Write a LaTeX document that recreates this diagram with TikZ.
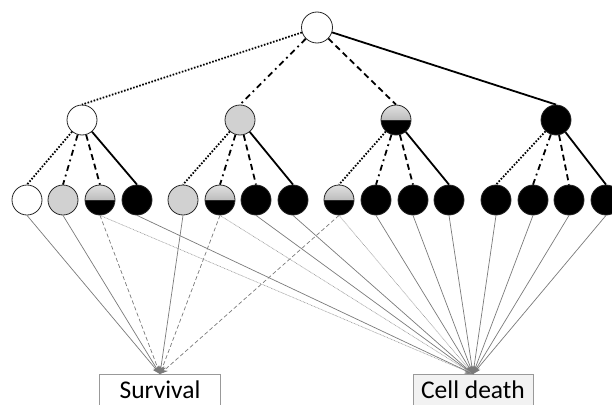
\documentclass[tikz,border=0pt]{standalone}
\usepackage{fontspec}
\setsansfont{Carlito}
\usetikzlibrary{arrows.meta}
\begin{document}
\begin{tikzpicture}[x=1pt,y=-1pt,
 nd/.style={circle, draw=black!85, line width=0.8pt, minimum size=30pt, inner sep=0pt},
 wnode/.style={nd, fill=white},
 gnode/.style={nd, fill=black!18},
 bnode/.style={nd, fill=black},
 hnode/.style={nd, path picture={
   \fill[top color=black!12, bottom color=black!40] (path picture bounding box.north west) rectangle (path picture bounding box.east);
   \fill[black] (path picture bounding box.west) rectangle (path picture bounding box.south east);
   \draw[black!85, line width=0.6pt] (path picture bounding box.west) -- (path picture bounding box.east);}},
 tdot/.style={line width=1.8pt, dash pattern=on 1.6pt off 1.6pt},
 tdd/.style={line width=1.8pt, dash pattern=on 6pt off 4pt on 1.8pt off 4pt},
 tdash/.style={line width=1.8pt, dash pattern=on 6pt off 4pt},
 tsol/.style={line width=1.8pt},
 tip/.style={-{Stealth[length=8pt,width=6pt]}},
 osol/.style={draw=black!52, line width=0.7pt, tip},
 odash/.style={draw=black!52, line width=0.7pt, dash pattern=on 4pt off 2.5pt, tip},
 odot/.style={draw=black!40, line width=0.6pt, dash pattern=on 0.8pt off 0.7pt, tip},
 obox/.style={draw=black!40, line width=0.8pt, font=\sffamily\fontsize{25.5}{30}\selectfont, minimum width=121pt, minimum height=30.5pt, anchor=north, inner sep=0pt}
]
\useasboundingbox (0,0) rectangle (612,404);
\clip (0,0) rectangle (612,404);

% root
\node[wnode, minimum size=31pt] (root) at (317,27.5) {};
% level 2
\node[wnode] (a) at (82,120) {};
\node[gnode] (b) at (240,120) {};
\node[hnode] (c) at (396,120) {};
\node[bnode] (d) at (556,120) {};
% leaves
\node[wnode] (l1) at (27,200) {};
\node[gnode] (l2) at (63,200) {};
\node[hnode] (l3) at (100,200) {};
\node[bnode] (l4) at (137,200) {};
\node[gnode] (l5) at (183,200) {};
\node[hnode] (l6) at (220,200) {};
\node[bnode] (l7) at (256,200) {};
\node[bnode] (l8) at (293,200) {};
\node[hnode] (l9) at (339,200) {};
\node[bnode] (l10) at (376,200) {};
\node[bnode] (l11) at (413,200) {};
\node[bnode] (l12) at (449,200) {};
\node[bnode] (l13) at (496,200) {};
\node[bnode] (l14) at (533,200) {};
\node[bnode] (l15) at (569,200) {};
\node[bnode] (l16) at (606,200) {};
% outcome boxes
\node[obox, fill=white] (surv) at (160,374) {Survival};
\node[obox, fill=black!5, minimum width=120pt] (death) at (473,374) {Cell death};

% tree edges
\draw[tdot] (root) -- (a.north);
\draw[tdd] (root) -- (b.north);
\draw[tdash] (root) -- (c.north);
\draw[tsol] (root) -- (d.north);
\draw[tdot] (a) -- (l1.north);
\draw[tdd] (a) -- (l2.north);
\draw[tdash] (a) -- (l3.north);
\draw[tsol] (a) -- (l4.north);
\draw[tdot] (b) -- (l5.north);
\draw[tdd] (b) -- (l6.north);
\draw[tdash] (b) -- (l7.north);
\draw[tsol] (b) -- (l8.north);
\draw[tdot] (c) -- (l9.north);
\draw[tdd] (c) -- (l10.north);
\draw[tdash] (c) -- (l11.north);
\draw[tsol] (c) -- (l12.north);
\draw[tdot] (d) -- (l13.north);
\draw[tdd] (d) -- (l14.north);
\draw[tdash] (d) -- (l15.north);
\draw[tsol] (d) -- (l16.north);

% outcome connectors
\draw[osol] (l1.south) -- (surv.north);
\draw[osol] (l2.south) -- (surv.north);
\draw[odash] (l3.south) -- (surv.north);
\draw[osol] (l5.south) -- (surv.north);
\draw[odash] (l6.south) -- (surv.north);
\draw[odash] (l9.south) -- (surv.north);
\draw[odot] (l3.south) -- (death.north);
\draw[osol] (l4.south) -- (death.north);
\draw[odot] (l6.south) -- (death.north);
\draw[osol] (l7.south) -- (death.north);
\draw[osol] (l8.south) -- (death.north);
\draw[odot] (l9.south) -- (death.north);
\draw[osol] (l10.south) -- (death.north);
\draw[osol] (l11.south) -- (death.north);
\draw[osol] (l12.south) -- (death.north);
\draw[osol] (l13.south) -- (death.north);
\draw[osol] (l14.south) -- (death.north);
\draw[osol] (l15.south) -- (death.north);
\draw[osol] (l16.south) -- (death.north);
\end{tikzpicture}
\end{document}
